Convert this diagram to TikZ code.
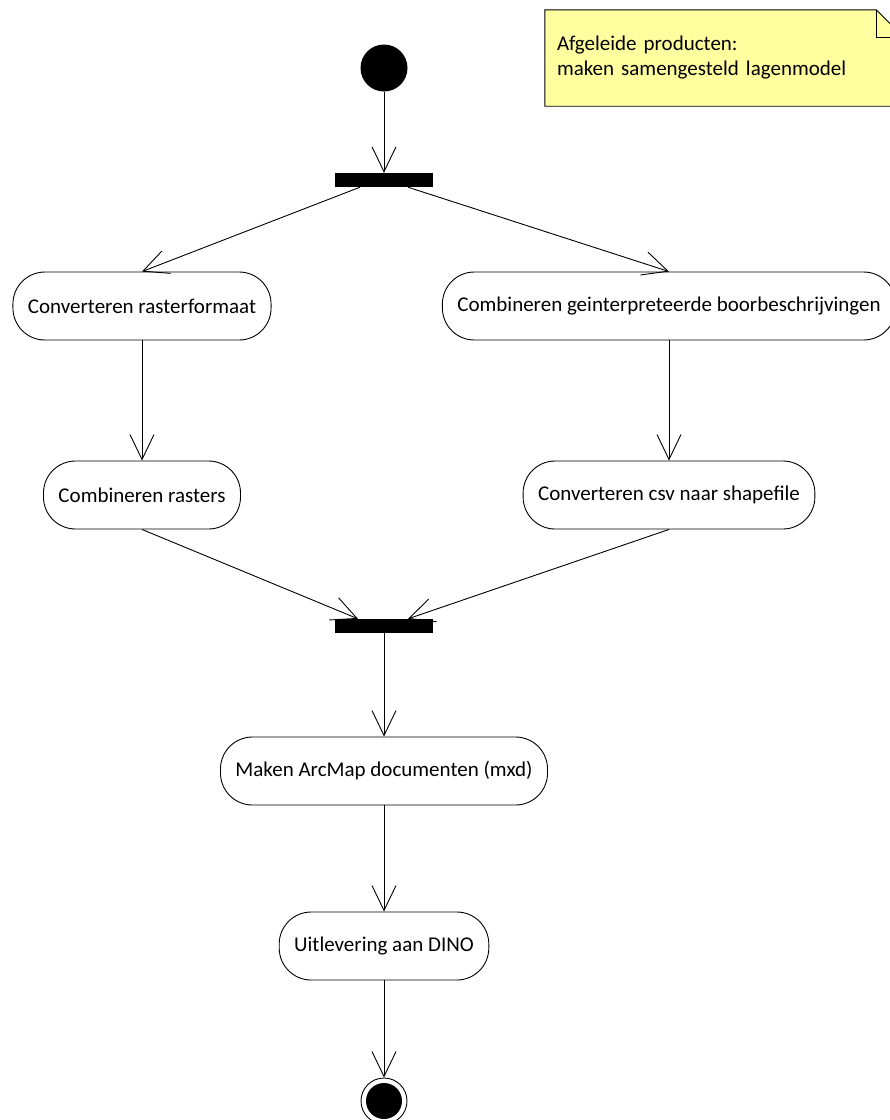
\documentclass[tikz,border=0pt]{standalone}
\usepackage{fontspec}
\setmainfont{Carlito}
\usetikzlibrary{arrows.meta, positioning, backgrounds}

\definecolor{notegeel}{RGB}{255,255,160}

\begin{document}
\begin{tikzpicture} [x=1pt, y=1pt, node distance = 100pt, on grid,
  font = \fontsize{21}{25}\selectfont,
  action/.style = {draw, rectangle, rounded corners = 32pt, line width = 0.9pt,
                   minimum height = 68pt, inner xsep = 15pt},
  bar/.style    = {fill, rectangle, minimum width = 98pt, minimum height = 14pt, inner sep = 0pt},
  flow/.style   = {-{Straight Barb[length=25pt, width=24pt]}, line width = 0.9pt}]

\useasboundingbox (0,0) rectangle (890,-1120);

\node (start) [circle, fill, minimum size = 47pt, inner sep = 0pt] at (384,-68) {};

\node (fork) [bar, below = 112pt of start] {};

% linker tak
\node (convr) [action, below left = 126pt and 242pt of fork] {Converteren rasterformaat};
\node (combr) [action, below = 189pt of convr] {Combineren rasters};
% rechter tak
\node (combb) [action, below right = 126pt and 285pt of fork] {Combineren geinterpreteerde boorbeschrijvingen};
\node (csv) [action, below = 189pt of combb] {Converteren csv naar shapefile};

\node (join) [bar, below = 446pt of fork] {};

\node (mxd) [action, below = 145pt of join] {Maken ArcMap documenten (mxd)};
\node (dino) [action, below = 175pt of mxd] {Uitlevering aan DINO};

\node (end) [circle, draw, line width = 0.9pt, minimum size = 46pt, inner sep = 0pt, below = 155pt of dino] {};
\fill (end) circle (18pt);

% notitie met ezelsoor
\node (note) [rectangle, minimum width = 359pt, minimum height = 96pt, text width = 335pt,
  inner xsep = 12pt, align = left] at (724.5,-58) {Afgeleide producten:\\maken samengesteld lagenmodel};
\begin{scope}[on background layer]
\draw [fill = notegeel, line width = 0.9pt] (note.south west) -- (note.north west)
  -- ([xshift=-28pt]note.north east) -- ([yshift=-28pt]note.north east) -- (note.south east) -- cycle;
\draw [line width = 0.9pt] ([xshift=-28pt]note.north east) -- ([xshift=-28pt,yshift=-28pt]note.north east)
  -- ([yshift=-28pt]note.north east);
\end{scope}

\draw [flow] (start) -- (fork.north);

\draw [flow] ([xshift=-24pt]fork.south) -- (convr.north);
\draw [flow] ([xshift=24pt]fork.south) -- (combb.north);

\draw [flow] (convr) -- (combr);
\draw [flow] (combb) -- (csv);

\draw [flow] (combr.south) -- ([xshift=-26pt]join.north);
\draw [flow] (csv.south) -- ([xshift=24pt]join.north);

\draw [flow] (join) -- (mxd);
\draw [flow] (mxd) -- (dino);
\draw [flow] (dino) -- (end);

\end{tikzpicture}
\end{document}
